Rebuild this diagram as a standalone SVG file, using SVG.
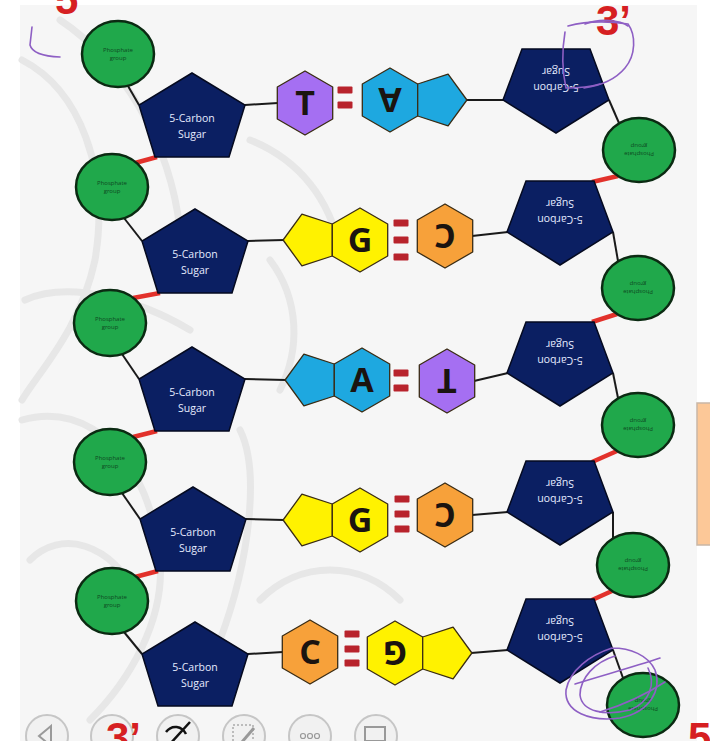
<svg xmlns="http://www.w3.org/2000/svg" width="710" height="741" viewBox="0 0 710 741">
  <style>
    .sugar { fill: #0b1f62; stroke: #050a20; stroke-width: 1.5; }
    .phos { fill: #20a84b; stroke: #0b2a12; stroke-width: 2.5; }
    .ring { stroke: #3a2c14; stroke-width: 1.3; stroke-linejoin: round; }
    .pur { fill: #a56ff2; }
    .blu { fill: #1ea8e0; }
    .yel { fill: #fff200; }
    .org { fill: #f7a13a; }
    .bar { fill: #b8232c; }
    .bond { stroke: #1a1a1a; stroke-width: 2; fill: none; }
    .red { stroke: #e2312b; stroke-width: 4.5; fill: none; }
    .stxt { font-family: "Open Sans", "Liberation Sans", sans-serif; font-size: 10.5px; fill: #e6ebff; text-anchor: middle; }
    .ptxt { font-family: "Open Sans", "Liberation Sans", sans-serif; font-size: 6px; fill: #0e4a22; text-anchor: middle; }
    .base { font-family: "Open Sans", "Liberation Sans", sans-serif; font-size: 34px; font-weight: 700; fill: #1b1410; text-anchor: middle; }
    .note { font-family: "Liberation Sans", "DejaVu Sans", sans-serif; font-size: 42px; font-weight: 700; fill: #d61f22; }
    .ink { stroke: #8e5fc4; stroke-width: 1.6; fill: none; stroke-linecap: round; }
    .wm { stroke: #e7e7e7; stroke-width: 7; fill: none; stroke-linecap: round; }
    .btn { fill: #f1f1f1; stroke: #c6c6c6; stroke-width: 2; }
  </style>
  <defs>
    <polygon id="hex" points="0,-32 27.7,-16 27.7,16 0,32 -27.7,16 -27.7,-16"/>
    <polygon id="pentR" points="27.7,-16 58.1,-25.9 76.9,0 58.1,25.9 27.7,16"/>
    <polygon id="pentL" points="-27.7,-16 -58.1,-25.9 -76.9,0 -58.1,25.9 -27.7,16"/>
    <polygon id="sugUp" points="0,0 53,32 37,84 -37,84 -53,32"/>
    <polygon id="sugDn" points="0,0 53,-33 34,-84 -34,-84 -53,-33"/>
    <rect id="bar" x="-7.5" y="-3.5" width="15" height="7" rx="1"/>
  </defs>

  <!-- page -->
  <rect x="0" y="0" width="710" height="741" fill="#ffffff"/>
  <rect x="20" y="5" width="677" height="736" fill="#f6f6f6"/>

  <!-- faint leaf watermark -->
  <g id="watermark">
    <path class="wm" d="M22,60 C80,90 110,170 95,260 C80,330 40,370 22,400"/>
    <path class="wm" d="M22,420 C90,400 150,460 160,560 C165,620 130,680 90,720"/>
    <path class="wm" d="M60,20 C120,60 170,140 180,230"/>
    <path class="wm" d="M25,300 C70,280 140,300 190,330"/>
    <path class="wm" d="M240,430 C260,470 250,560 220,640"/>
    <path class="wm" d="M260,600 C300,560 360,560 400,600"/>
    <path class="wm" d="M30,560 C60,530 110,540 140,600"/>
    <path class="wm" d="M270,260 C300,300 300,350 280,390"/>
    <path class="wm" d="M250,140 C300,160 330,200 340,250"/>
  </g>

  <!-- side panel edge -->
  <rect x="697" y="403" width="15" height="142" fill="#fcc898" stroke="#c9b7a6" stroke-width="1.5"/>

  <!-- backbone and base connectors -->
  <g id="connectors">
    <!-- left strand: phosphate to sugar -->
    <line class="bond" x1="128" y1="86" x2="139" y2="105"/>
    <line class="bond" x1="124" y1="218" x2="142" y2="241"/>
    <line class="bond" x1="122" y1="354" x2="139" y2="379"/>
    <line class="bond" x1="122" y1="493" x2="140" y2="519"/>
    <line class="bond" x1="124" y1="632" x2="142" y2="654"/>
    <!-- left strand: sugar to next phosphate -->
    <line class="red" x1="157" y1="157" x2="135" y2="163"/>
    <line class="red" x1="160" y1="293" x2="133" y2="298"/>
    <line class="red" x1="157" y1="431" x2="133" y2="437"/>
    <line class="red" x1="158" y1="571" x2="135" y2="577"/>
    <!-- right strand: sugar to phosphate -->
    <line class="bond" x1="609" y1="100" x2="619" y2="123"/>
    <line class="bond" x1="613" y1="232" x2="618" y2="261"/>
    <line class="bond" x1="613" y1="373" x2="618" y2="398"/>
    <line class="bond" x1="613" y1="512" x2="613" y2="538"/>
    <line class="bond" x1="613" y1="650" x2="623" y2="678"/>
    <!-- right strand: phosphate to next sugar -->
    <line class="red" x1="618" y1="176" x2="592" y2="182"/>
    <line class="red" x1="617" y1="314" x2="592" y2="322"/>
    <line class="red" x1="617" y1="451" x2="592" y2="462"/>
    <line class="red" x1="612" y1="591" x2="592" y2="600"/>
    <!-- sugar to base -->
    <line class="bond" x1="245" y1="105" x2="278" y2="103"/>
    <line class="bond" x1="467" y1="100" x2="504" y2="100"/>
    <line class="bond" x1="248" y1="241" x2="284" y2="240"/>
    <line class="bond" x1="472" y1="236" x2="508" y2="232"/>
    <line class="bond" x1="245" y1="379" x2="286" y2="380"/>
    <line class="bond" x1="474" y1="381" x2="508" y2="373"/>
    <line class="bond" x1="246" y1="519" x2="284" y2="520"/>
    <line class="bond" x1="472" y1="515" x2="508" y2="512"/>
    <line class="bond" x1="248" y1="654" x2="283" y2="652"/>
    <line class="bond" x1="471" y1="653" x2="508" y2="650"/>
  </g>

  <!-- left strand phosphates -->
  <g id="p1"><ellipse class="phos" cx="118" cy="54" rx="36" ry="33"/><text class="ptxt" x="118" y="52">Phosphate</text><text class="ptxt" x="118" y="60">group</text></g>
  <g id="p2"><ellipse class="phos" cx="112" cy="187" rx="36" ry="33"/><text class="ptxt" x="112" y="185">Phosphate</text><text class="ptxt" x="112" y="193">group</text></g>
  <g id="p3"><ellipse class="phos" cx="110" cy="323" rx="36" ry="33"/><text class="ptxt" x="110" y="321">Phosphate</text><text class="ptxt" x="110" y="329">group</text></g>
  <g id="p4"><ellipse class="phos" cx="110" cy="462" rx="36" ry="33"/><text class="ptxt" x="110" y="460">Phosphate</text><text class="ptxt" x="110" y="468">group</text></g>
  <g id="p5"><ellipse class="phos" cx="112" cy="601" rx="36" ry="33"/><text class="ptxt" x="112" y="599">Phosphate</text><text class="ptxt" x="112" y="607">group</text></g>

  <!-- left strand sugars -->
  <g id="s1"><use href="#sugUp" class="sugar" x="192" y="73"/><text class="stxt" x="192" y="122">5-Carbon</text><text class="stxt" x="192" y="138">Sugar</text></g>
  <g id="s2"><use href="#sugUp" class="sugar" x="195" y="209"/><text class="stxt" x="195" y="258">5-Carbon</text><text class="stxt" x="195" y="274">Sugar</text></g>
  <g id="s3"><use href="#sugUp" class="sugar" x="192" y="347"/><text class="stxt" x="192" y="396">5-Carbon</text><text class="stxt" x="192" y="412">Sugar</text></g>
  <g id="s4"><use href="#sugUp" class="sugar" x="193" y="487"/><text class="stxt" x="193" y="536">5-Carbon</text><text class="stxt" x="193" y="552">Sugar</text></g>
  <g id="s5"><use href="#sugUp" class="sugar" x="195" y="622"/><text class="stxt" x="195" y="671">5-Carbon</text><text class="stxt" x="195" y="687">Sugar</text></g>

  <!-- right strand sugars (antiparallel, drawn upside down) -->
  <g id="r1"><use href="#sugDn" class="sugar" x="556" y="133"/><g transform="rotate(180 556 80)"><text class="stxt" x="556" y="76">5-Carbon</text><text class="stxt" x="556" y="92">Sugar</text></g></g>
  <g id="r2"><use href="#sugDn" class="sugar" x="560" y="265"/><g transform="rotate(180 560 212)"><text class="stxt" x="560" y="208">5-Carbon</text><text class="stxt" x="560" y="224">Sugar</text></g></g>
  <g id="r3"><use href="#sugDn" class="sugar" x="560" y="406"/><g transform="rotate(180 560 353)"><text class="stxt" x="560" y="349">5-Carbon</text><text class="stxt" x="560" y="365">Sugar</text></g></g>
  <g id="r4"><use href="#sugDn" class="sugar" x="560" y="545"/><g transform="rotate(180 560 492)"><text class="stxt" x="560" y="488">5-Carbon</text><text class="stxt" x="560" y="504">Sugar</text></g></g>
  <g id="r5"><use href="#sugDn" class="sugar" x="560" y="683"/><g transform="rotate(180 560 630)"><text class="stxt" x="560" y="626">5-Carbon</text><text class="stxt" x="560" y="642">Sugar</text></g></g>

  <!-- right strand phosphates -->
  <g id="rp1"><ellipse class="phos" cx="639" cy="150" rx="36" ry="32"/><g transform="rotate(180 639 150)"><text class="ptxt" x="639" y="148">Phosphate</text><text class="ptxt" x="639" y="156">group</text></g></g>
  <g id="rp2"><ellipse class="phos" cx="638" cy="288" rx="36" ry="32"/><g transform="rotate(180 638 288)"><text class="ptxt" x="638" y="286">Phosphate</text><text class="ptxt" x="638" y="294">group</text></g></g>
  <g id="rp3"><ellipse class="phos" cx="638" cy="425" rx="36" ry="32"/><g transform="rotate(180 638 425)"><text class="ptxt" x="638" y="423">Phosphate</text><text class="ptxt" x="638" y="431">group</text></g></g>
  <g id="rp4"><ellipse class="phos" cx="633" cy="565" rx="36" ry="32"/><g transform="rotate(180 633 565)"><text class="ptxt" x="633" y="563">Phosphate</text><text class="ptxt" x="633" y="571">group</text></g></g>
  <g id="rp5"><ellipse class="phos" cx="643" cy="705" rx="36" ry="32"/><g transform="rotate(180 643 705)"><text class="ptxt" x="643" y="703">Phosphate</text><text class="ptxt" x="643" y="711">group</text></g></g>

  <!-- pair 1: T = A -->
  <g id="pair1">
    <use href="#hex" class="ring pur" x="305" y="103"/>
    <text class="base" x="305" y="115">T</text>
    <use href="#bar" class="bar" x="345" y="90"/>
    <use href="#bar" class="bar" x="345" y="105"/>
    <use href="#hex" class="ring blu" x="390" y="100"/>
    <use href="#pentR" class="ring blu" x="390" y="100"/>
    <text class="base" x="390" y="112" transform="rotate(180 390 100)">A</text>
  </g>

  <!-- pair 2: G ≡ C -->
  <g id="pair2">
    <use href="#pentL" class="ring yel" x="360" y="240"/>
    <use href="#hex" class="ring yel" x="360" y="240"/>
    <text class="base" x="360" y="252">G</text>
    <use href="#bar" class="bar" x="401" y="223"/>
    <use href="#bar" class="bar" x="401" y="240"/>
    <use href="#bar" class="bar" x="401" y="257"/>
    <use href="#hex" class="ring org" x="445" y="236"/>
    <text class="base" x="445" y="248" transform="rotate(180 445 236)">C</text>
  </g>

  <!-- pair 3: A = T -->
  <g id="pair3">
    <use href="#pentL" class="ring blu" x="362" y="380"/>
    <use href="#hex" class="ring blu" x="362" y="380"/>
    <text class="base" x="362" y="392">A</text>
    <use href="#bar" class="bar" x="401" y="373"/>
    <use href="#bar" class="bar" x="401" y="388"/>
    <use href="#hex" class="ring pur" x="447" y="381"/>
    <text class="base" x="447" y="393" transform="rotate(180 447 381)">T</text>
  </g>

  <!-- pair 4: G ≡ C -->
  <g id="pair4">
    <use href="#pentL" class="ring yel" x="360" y="520"/>
    <use href="#hex" class="ring yel" x="360" y="520"/>
    <text class="base" x="360" y="532">G</text>
    <use href="#bar" class="bar" x="402" y="499"/>
    <use href="#bar" class="bar" x="402" y="514"/>
    <use href="#bar" class="bar" x="402" y="529"/>
    <use href="#hex" class="ring org" x="445" y="515"/>
    <text class="base" x="445" y="527" transform="rotate(180 445 515)">C</text>
  </g>

  <!-- pair 5: C ≡ G -->
  <g id="pair5">
    <use href="#hex" class="ring org" x="310" y="652"/>
    <text class="base" x="310" y="664">C</text>
    <use href="#bar" class="bar" x="352" y="634"/>
    <use href="#bar" class="bar" x="352" y="649"/>
    <use href="#bar" class="bar" x="352" y="663"/>
    <use href="#hex" class="ring yel" x="395" y="653"/>
    <use href="#pentR" class="ring yel" x="395" y="653"/>
    <text class="base" x="395" y="665" transform="rotate(180 395 653)">G</text>
  </g>

  <!-- toolbar buttons along the bottom -->
  <g id="toolbar">
    <circle class="btn" cx="47" cy="736" r="21"/>
    <polygon points="51,726 39,736 51,746" fill="none" stroke="#9a9a9a" stroke-width="2"/>
    <circle class="btn" cx="112" cy="736" r="21"/>
    <circle class="btn" cx="178" cy="736" r="21"/>
    <path d="M166,732 C172,724 182,726 186,734 M170,744 L190,722" stroke="#111" stroke-width="2.5" fill="none"/>
    <circle class="btn" cx="244" cy="736" r="21"/>
    <rect x="233" y="725" width="20" height="20" fill="none" stroke="#aaa" stroke-width="1.5" stroke-dasharray="2 2"/>
    <path d="M242,742 L254,728" stroke="#999" stroke-width="3"/>
    <circle class="btn" cx="310" cy="736" r="21"/>
    <circle cx="303" cy="736" r="2.5" fill="none" stroke="#999" stroke-width="1.2"/>
    <circle cx="310" cy="736" r="2.5" fill="none" stroke="#999" stroke-width="1.2"/>
    <circle cx="317" cy="736" r="2.5" fill="none" stroke="#999" stroke-width="1.2"/>
    <circle class="btn" cx="376" cy="736" r="21"/>
    <rect x="365" y="727" width="20" height="14" fill="none" stroke="#999" stroke-width="2"/>
  </g>

  <!-- red end labels -->
  <g id="labels">
    <text class="note" x="55" y="14">5</text>
    <text class="note" x="596" y="35">3’</text>
    <text class="note" x="106" y="752">3’</text>
    <text class="note" x="688" y="752">5</text>
  </g>

  <!-- purple pen marks -->
  <g id="pen">
    <path class="ink" d="M32,27 L30,45 Q33,56 60,57"/>
    <path class="ink" d="M568,26 C590,20 615,22 628,24 C636,35 636,55 625,68 C615,80 598,86 584,88"/>
    <path class="ink" d="M565,32 C562,50 562,70 566,88 C575,88 590,87 600,84"/>
    <path class="ink" d="M585,24 C600,18 620,20 628,26"/>
    <path class="ink" d="M612,648 C590,655 570,670 566,690 C564,712 590,722 620,718 C650,712 662,690 655,670 C648,655 630,648 612,648"/>
    <path class="ink" d="M615,656 C595,662 580,678 580,695 C582,712 605,716 630,710 C650,702 656,684 648,668"/>
    <path class="ink" d="M575,684 C600,676 630,668 660,658"/>
    <path class="ink" d="M600,712 C620,706 645,695 665,682"/>
  </g>
</svg>
